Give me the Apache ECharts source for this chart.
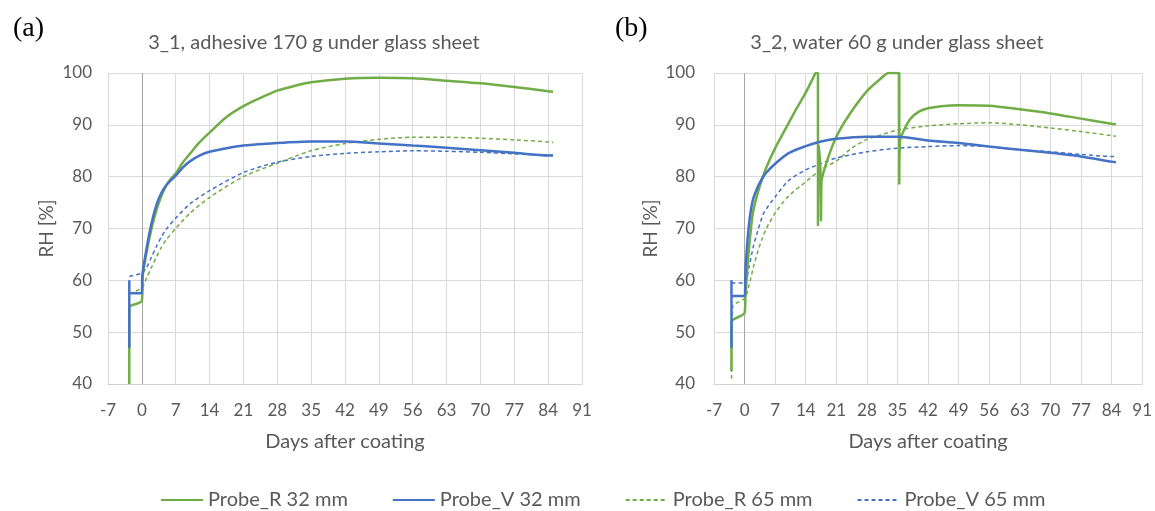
<!DOCTYPE html>
<html>
<head>
<meta charset="utf-8">
<script src="https://cdn.jsdelivr.net/npm/echarts@6/dist/echarts.min.js"></script>
<style>
  html, body { margin: 0; padding: 0; background: #fff; }
  #chart { width: 1155px; height: 511px; }
</style>
</head>
<body>
<div id="chart"></div>
<script>
// tick labels
const xTicks = { min: -7, max: 91, step: 7 };
const yTicks = { min: 40, max: 100, step: 10 };
const seriesNames = ["Probe_R 32 mm", "Probe_V 32 mm", "Probe_R 65 mm", "Probe_V 65 mm"];
const panelTitles = ["3_1, adhesive 170 g under glass sheet", "3_2, water 60 g under glass sheet"];
const panelLetters = ["(a)", "(b)"];

// (a) 3_1 adhesive
const aR32Days = [-2.6, -2.6, 0, 0.2, 1, 2, 3, 4, 5, 6, 7, 8.5, 10, 12, 14, 17.5, 21, 24.5, 28, 31.5, 35, 42, 49, 56, 63, 70, 77, 84, 85];
const aR32 = [40, 54.8, 56, 61, 65.5, 70, 73.5, 76.2, 78.2, 79.6, 80.6, 82.8, 84.5, 86.7, 88.5, 91.5, 93.6, 95.2, 96.6, 97.5, 98.2, 98.9, 99.1, 99.0, 98.5, 98.0, 97.3, 96.5, 96.4];
const aV32Days = [-2.6, -2.6, -2.6, 0, 0.1, 1, 2, 3, 4, 5, 6, 7, 8.5, 10, 12, 14, 17.5, 21, 28, 35, 42, 49, 56, 63, 70, 77, 84, 85];
const aV32 = [47, 60, 57.5, 57.5, 61, 66.3, 71, 74.5, 76.8, 78.3, 79.3, 80.2, 81.8, 83, 84.1, 84.8, 85.5, 86.0, 86.5, 86.8, 86.8, 86.4, 86.0, 85.6, 85.1, 84.6, 84.1, 84.1];
const aR65Days = [-2.6, 0, 1, 2, 3, 4, 5, 7, 10, 14, 21, 28, 35, 42, 49, 56, 63, 70, 77, 84, 85];
const aR65 = [57.5, 58.5, 60.5, 62.5, 64.5, 66.3, 67.8, 70, 73, 76, 80, 82.6, 85, 86.4, 87.2, 87.6, 87.6, 87.4, 87.1, 86.7, 86.6];
const aV65Days = [-2.6, 0, 1, 2, 3, 4, 5, 7, 10, 14, 21, 28, 35, 42, 49, 56, 63, 70, 77, 84, 85];
const aV65 = [60.8, 61.4, 62.5, 64.5, 66.5, 68.3, 69.8, 72, 74.8, 77.3, 80.8, 82.8, 83.9, 84.5, 84.8, 85.0, 84.9, 84.7, 84.4, 84.2, 84.2];

// (b) 3_2 water
const bR32Days = [-3, -3, 0, 0.2, 1, 1.9, 3.4, 5, 7, 10, 12, 14, 16, 16.3, 16.8, 16.8, 17.0, 17.4, 17.5, 17.6, 18.7, 21, 24, 28, 31, 33, 35.4, 35.4, 35.6, 36.5, 38, 40, 42, 45, 49, 56, 63, 70, 77, 84, 85];
const bR32 = [42.5, 52, 53.7, 57, 66, 73, 78, 81.8, 85.5, 90.2, 93.3, 96.2, 99.6, 100, 100, 70.5, 86, 80, 71.5, 79, 82.6, 87.7, 92, 96.5, 98.8, 100, 100, 78.5, 87, 89, 91.2, 92.6, 93.2, 93.6, 93.8, 93.7, 93.0, 92.2, 91.2, 90.2, 90.1];
const bV32Days = [-3, -3, -3, 0, 0.2, 0.6, 1, 1.5, 2, 3, 4, 5, 7, 10, 14, 17, 21, 28, 35, 42, 49, 56, 63, 70, 77, 84, 85];
const bV32 = [47, 60, 57, 57, 62, 67, 70.8, 73.8, 75.8, 78, 79.6, 80.8, 82.5, 84.5, 85.9, 86.7, 87.3, 87.7, 87.7, 87.0, 86.5, 85.8, 85.2, 84.6, 83.9, 82.9, 82.8];
const bR65Days = [-3, -2.7, 0, 1, 2, 3, 4, 5, 7, 10, 14, 17.7, 21, 24.5, 28, 31, 35, 42, 49, 56, 63, 70, 77, 84, 85];
const bR65 = [41, 55, 56.5, 59, 62.5, 65.5, 68, 70, 73, 76.2, 79, 81.5, 83, 85.5, 87.2, 88.0, 89, 89.8, 90.2, 90.4, 90.0, 89.4, 88.7, 87.9, 87.8];
const bV65Days = [-3, 0, 1, 2, 3, 4.4, 7, 10, 14, 17.7, 21, 28, 35, 42, 49, 56, 63, 70, 77, 84, 85];
const bV65 = [59.5, 59.5, 62.5, 66.5, 69.5, 73, 76.1, 79.2, 81.3, 82.6, 83.6, 84.8, 85.5, 85.8, 86.0, 85.8, 85.2, 84.8, 84.3, 83.9, 83.9];

const green = "#70ad47";
const blue = "#4472c4";
const grey = "#595959";
const font = "Lato";

const zip = (days, values) => days.map((d, i) => [d, values[i]]);

const panels = [
    [[aR32Days, aR32], [aV32Days, aV32], [aR65Days, aR65], [aV65Days, aV65]],
    [[bR32Days, bR32], [bV32Days, bV32], [bR65Days, bR65], [bV65Days, bV65]]
];
const styles = [
    { color: green, width: 2.5, type: "solid" },
    { color: blue, width: 2.5, type: "solid" },
    { color: green, width: 1.5, type: [4, 3] },
    { color: blue, width: 1.5, type: [4, 3] }
];

const grids = [
    { left: 108, right: 573, top: 73, bottom: 127 },
    { left: 714, right: 9, top: 73, bottom: 127 }
];

const series = [];
panels.forEach((panel, p) => {
    panel.forEach(([days, values], i) => {
        const s = {
            name: seriesNames[i],
            type: "line",
            xAxisIndex: p,
            yAxisIndex: p,
            data: zip(days, values),
            showSymbol: false,
            symbol: "none",
            smooth: 0.25,
            lineStyle: styles[i],
            itemStyle: { color: styles[i].color },
            z: i < 2 ? 3 : 2
        };
        if (i === 0) {
            s.markLine = {
                silent: true,
                symbol: "none",
                label: { show: false },
                lineStyle: { color: "#a6a6a6", type: "solid", width: 1 },
                data: [{ xAxis: 0 }],
                z: 1
            };
        }
        series.push(s);
    });
});

const xAxes = grids.map((g, p) => ({
    type: "value",
    gridIndex: p,
    min: xTicks.min,
    max: xTicks.max,
    interval: xTicks.step,
    name: "Days after coating",
    nameLocation: "middle",
    nameGap: 48,
    nameTextStyle: { color: grey, fontSize: 20, fontFamily: font },
    axisLine: { show: true, onZero: false, lineStyle: { color: "#d0d0d0" } },
    axisTick: { show: false },
    axisLabel: { color: grey, fontSize: 17, fontFamily: font, margin: 18 },
    splitLine: { show: true, lineStyle: { color: "#d9d9d9" } }
}));

const yAxes = grids.map((g, p) => ({
    type: "value",
    gridIndex: p,
    min: yTicks.min,
    max: yTicks.max,
    interval: yTicks.step,
    name: "RH [%]",
    nameLocation: "middle",
    nameGap: p === 0 ? 52 : 54,
    nameTextStyle: { color: grey, fontSize: 19, fontFamily: font },
    axisLine: { show: false },
    axisTick: { show: false },
    axisLabel: { color: grey, fontSize: 17, fontFamily: font, margin: p === 0 ? 16 : 19 },
    splitLine: { show: true, lineStyle: { color: "#d9d9d9" } }
}));

const chart = echarts.init(document.getElementById("chart"), null, { renderer: "canvas" });
chart.setOption({
    animation: false,
    backgroundColor: "#fff",
    title: [
        { text: panelTitles[0], left: 309, top: 28, textAlign: "center",
          textStyle: { color: grey, fontSize: 20, fontWeight: "normal", fontFamily: font } },
        { text: panelTitles[1], left: 892, top: 28, textAlign: "center",
          textStyle: { color: grey, fontSize: 20, fontWeight: "normal", fontFamily: font } },
        { text: panelLetters[0], left: 8, top: 10,
          textStyle: { color: "#000", fontSize: 28, fontWeight: "normal", fontFamily: "Liberation Serif" } },
        { text: panelLetters[1], left: 610, top: 10,
          textStyle: { color: "#000", fontSize: 28, fontWeight: "normal", fontFamily: "Liberation Serif" } }
    ],
    legend: {
        data: seriesNames,
        left: 160,
        top: 490,
        itemWidth: 42,
        itemHeight: 12,
        itemGap: 44,
        padding: 0,
        itemStyle: { color: "rgba(0,0,0,0)", borderWidth: 0, opacity: 0 },
        textStyle: { color: grey, fontSize: 20, fontFamily: font, padding: [0, 0, 0, 0] }
    },
    grid: grids,
    xAxis: xAxes,
    yAxis: yAxes,
    series: series
});
</script>
</body>
</html>
